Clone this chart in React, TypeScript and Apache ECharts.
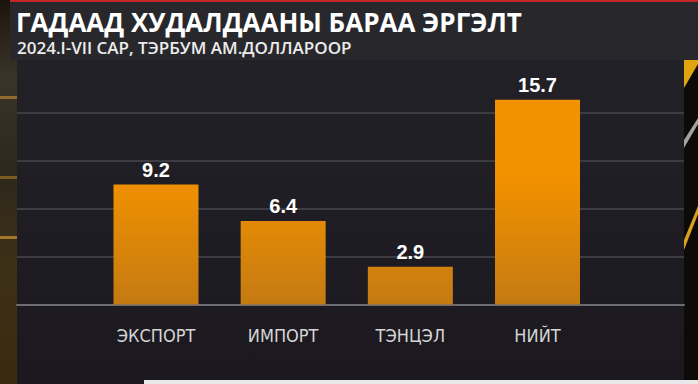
import React, { useEffect, useRef } from "react";
import * as echarts from "echarts";

const titleText = "ГАДААД ХУДАЛДААНЫ БАРАА ЭРГЭЛТ";
const subtitleText = "2024.I-VII САР, ТЭРБУМ АМ.ДОЛЛАРООР";
const categories = ["ЭКСПОРТ", "ИМПОРТ", "ТЭНЦЭЛ", "НИЙТ"];
const values = [9.2, 6.4, 2.9, 15.7];
const valueLabels = ["9.2", "6.4", "2.9", "15.7"];

export default function App() {
  const ref = useRef<HTMLDivElement>(null);
  useEffect(() => {
    if (!ref.current) return;
    const chart = echarts.init(ref.current, null, { renderer: "svg" });
    const barGrad = new echarts.graphic.LinearGradient(
      0, 175, 0, 305,
      [
        { offset: 0, color: "#f39200" },
        { offset: 1, color: "#c47a12" },
      ],
      true
    );
    const option: any = {
      animation: false,
      backgroundColor: "#120d08",
      title: [
        {
          text: titleText,
          left: 16,
          top: 8,
          padding: 0,
          textStyle: {
            fontFamily: "'Open Sans', sans-serif",
            fontWeight: "bold",
            fontSize: 26,
            lineHeight: 28,
            color: "#ffffff",
          },
        },
        {
          text: subtitleText,
          left: 17,
          top: 38,
          padding: 0,
          textStyle: {
            fontFamily: "'Open Sans', sans-serif",
            fontWeight: 600,
            fontSize: 17,
            lineHeight: 18,
            color: "#ececec",
          },
        },
      ],
      graphic: {
        elements: [
          {
            type: "rect",
            z: -10,
            shape: { x: 0, y: 0, width: 17, height: 384 },
            style: {
              fill: new echarts.graphic.LinearGradient(0, 0, 0, 1, [
                { offset: 0, color: "#1c150b" },
                { offset: 0.2, color: "#3a3328" },
                { offset: 0.45, color: "#2e281c" },
                { offset: 0.7, color: "#3d3018" },
                { offset: 1, color: "#3a2a0e" },
              ]),
            },
          },
          { type: "rect", z: -9, shape: { x: 0, y: 96, width: 17, height: 3 }, style: { fill: "#a87a30", opacity: 0.8 } },
          { type: "rect", z: -9, shape: { x: 0, y: 176, width: 17, height: 3 }, style: { fill: "#9a7028", opacity: 0.7 } },
          { type: "rect", z: -9, shape: { x: 0, y: 236, width: 17, height: 3 }, style: { fill: "#c08a30", opacity: 0.8 } },
          {
            type: "rect",
            z: -10,
            shape: { x: 684, y: 60, width: 14, height: 324 },
            style: { fill: "#0d0b08" },
          },
          { type: "polygon", z: -9, shape: { points: [[684, 60], [698, 60], [698, 64], [684, 88]] }, style: { fill: "#e0a410" } },
          { type: "polygon", z: -9, shape: { points: [[684, 140], [698, 118], [698, 124], [684, 148]] }, style: { fill: "#bdbdbd", opacity: 0.85 } },
          { type: "polygon", z: -9, shape: { points: [[684, 240], [698, 206], [698, 214], [684, 250]] }, style: { fill: "#f0b020", opacity: 0.9 } },
          {
            type: "rect",
            z: -10,
            shape: { x: 10, y: 0, width: 688, height: 2 },
            style: { fill: "#c0262a" },
          },
          {
            type: "rect",
            z: -10,
            shape: { x: 10, y: 2, width: 688, height: 58 },
            style: { fill: "#28282c" },
          },
          {
            type: "rect",
            z: -10,
            shape: { x: 17, y: 60, width: 667, height: 324 },
            style: {
              fill: new echarts.graphic.LinearGradient(0, 0, 0, 1, [
                { offset: 0, color: "#222127" },
                { offset: 1, color: "#1b191f" },
              ]),
            },
          },
          {
            type: "rect",
            z: 5,
            shape: { x: 144, y: 380, width: 554, height: 4 },
            style: { fill: "#e8e8e8" },
          },
        ],
      },
      grid: [
        { left: 17, right: 14, top: 112.5, bottom: 79.5, containLabel: false },
        { left: 92.4, right: 96.9, top: 64.5, bottom: 79.5, containLabel: false },
      ],
      xAxis: [
        {
          gridIndex: 0,
          type: "value",
          min: 0,
          max: 1,
          axisLine: { show: true, onZero: false, lineStyle: { color: "#6c6c72", width: 2 } },
          axisTick: { show: false },
          axisLabel: { show: false },
          splitLine: { show: false },
        },
        {
          gridIndex: 1,
          type: "category",
          data: categories,
          axisLine: { show: false },
          axisTick: { show: false },
          axisLabel: {
            margin: 22,
            color: "#d6d6d6",
            fontSize: 18,
            fontFamily: "'Liberation Sans Narrow', 'DejaVu Sans Condensed', sans-serif",
          },
        },
      ],
      yAxis: [
        {
          gridIndex: 0,
          type: "value",
          min: 0,
          max: 4,
          interval: 1,
          axisLine: { show: false },
          axisTick: { show: false },
          axisLabel: { show: false },
          splitLine: { show: true, lineStyle: { color: "#3c3c42", width: 2 } },
        },
        {
          gridIndex: 1,
          type: "value",
          min: 0,
          max: 18.4,
          axisLine: { show: false },
          axisTick: { show: false },
          axisLabel: { show: false },
          splitLine: { show: false },
        },
      ],
      series: [
        { type: "line", xAxisIndex: 0, yAxisIndex: 0, data: [], silent: true },
        {
          type: "bar",
          xAxisIndex: 1,
          yAxisIndex: 1,
          data: values,
          barWidth: 85,
          itemStyle: { color: barGrad },
          label: {
            show: true,
            position: "top",
            distance: 5,
            color: "#ffffff",
            fontSize: 20,
            fontWeight: "bold",
            fontFamily: "'Liberation Sans', Arial, sans-serif",
            formatter: (p: any) => valueLabels[p.dataIndex],
          },
        },
      ],
    };
    chart.setOption(option);
    return () => chart.dispose();
  }, []);
  return (
    <div
      ref={ref}
      style={{ position: "absolute", left: 0, top: 0, width: 698, height: 384 }}
    />
  );
}
